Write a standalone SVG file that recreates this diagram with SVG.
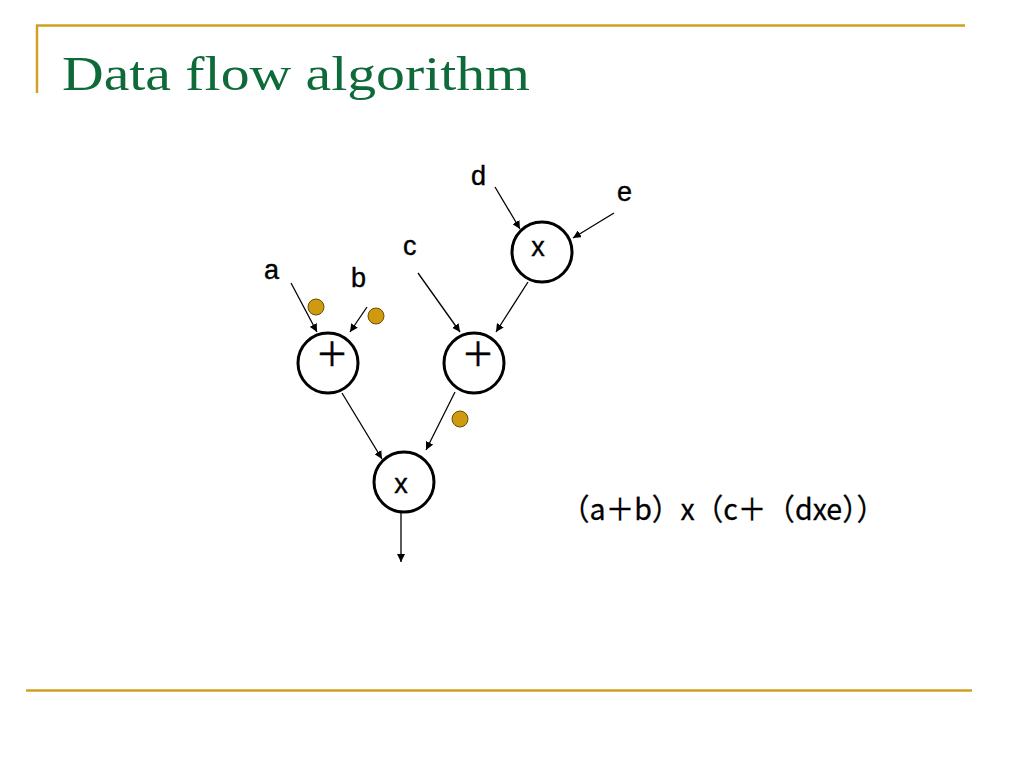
<svg xmlns="http://www.w3.org/2000/svg" width="1024" height="768" viewBox="0 0 1024 768">
<defs>
<style>
.rule{stroke:#D0A020;stroke-width:2.5;fill:none}
.node{fill:#fff;stroke:#000;stroke-width:3}
.lbl{font-family:"Liberation Sans",Arial,sans-serif;font-size:27px;fill:#000;stroke:#000;stroke-width:0.4}
.op{font-family:"Liberation Sans",Arial,sans-serif;font-size:27px;fill:#000;text-anchor:middle;stroke:#000;stroke-width:0.4}
.plus{font-family:"Noto Sans CJK JP","Liberation Sans",sans-serif;font-size:33px;fill:#000;text-anchor:middle;stroke:#000;stroke-width:0.5}
.edge{stroke:#000;stroke-width:1.3;fill:none;marker-end:url(#ah)}
.token{fill:#D09A10;stroke:#6b5000;stroke-width:1}
.title{font-family:"Liberation Serif","Times New Roman",serif;font-size:48px;fill:#0E6A38}
.formula{font-family:"Noto Sans CJK JP","Liberation Sans",sans-serif;font-size:30px;fill:#000;stroke:#000;stroke-width:0.3}
</style>
<marker id="ah" viewBox="0 0 10 10" refX="10" refY="5" markerWidth="8" markerHeight="8" markerUnits="userSpaceOnUse" orient="auto">
<path d="M0,0 L10,5 L0,10 z" fill="#000"/>
</marker>
</defs>
<rect width="1024" height="768" fill="#fff"/>
<g id="frame">
<line class="rule" x1="36" y1="25.5" x2="965" y2="25.5"/>
<line class="rule" x1="37" y1="25" x2="37" y2="93"/>
<line class="rule" x1="26" y1="690.5" x2="972" y2="690.5"/>
</g>
<text id="title" class="title" x="62" y="90" textLength="468" lengthAdjust="spacingAndGlyphs">Data flow algorithm</text>
<g id="connectors">
<line class="edge" x1="291" y1="283" x2="317" y2="332"/>
<line class="edge" x1="367" y1="307" x2="350" y2="332"/>
<line class="edge" x1="418" y1="273" x2="460" y2="332"/>
<line class="edge" x1="495" y1="187" x2="520" y2="229"/>
<line class="edge" x1="614" y1="213" x2="573" y2="238"/>
<line class="edge" x1="528" y1="282" x2="496" y2="332"/>
<line class="edge" x1="342" y1="393" x2="382" y2="459"/>
<line class="edge" x1="455" y1="392" x2="426" y2="450"/>
<line class="edge" x1="401" y1="513" x2="401" y2="562"/>
</g>
<g id="node-add1">
<circle class="node" cx="328" cy="363" r="30"/>
<text class="plus" x="332" y="366">＋</text>
</g>
<g id="node-add2">
<circle class="node" cx="474" cy="363" r="30"/>
<text class="plus" x="478" y="366">＋</text>
</g>
<g id="node-mul1">
<circle class="node" cx="542" cy="252" r="30"/>
<text class="op" x="538" y="256">x</text>
</g>
<g id="node-mul2">
<circle class="node" cx="404" cy="482" r="30"/>
<text class="op" x="401" y="493">x</text>
</g>
<g id="labels">
<text class="lbl" x="264" y="279">a</text>
<text class="lbl" x="351" y="287">b</text>
<text class="lbl" x="403" y="255">c</text>
<text class="lbl" x="471" y="185">d</text>
<text class="lbl" x="617" y="201">e</text>
</g>
<g id="tokens">
<circle class="token" cx="316" cy="307" r="8"/>
<circle class="token" cx="376" cy="316" r="8"/>
<circle class="token" cx="460" cy="419" r="8"/>
</g>
<text id="formula" class="formula" x="561" y="520" textLength="324" lengthAdjust="spacingAndGlyphs">（a＋b）x（c＋（dxe））</text>
</svg>
